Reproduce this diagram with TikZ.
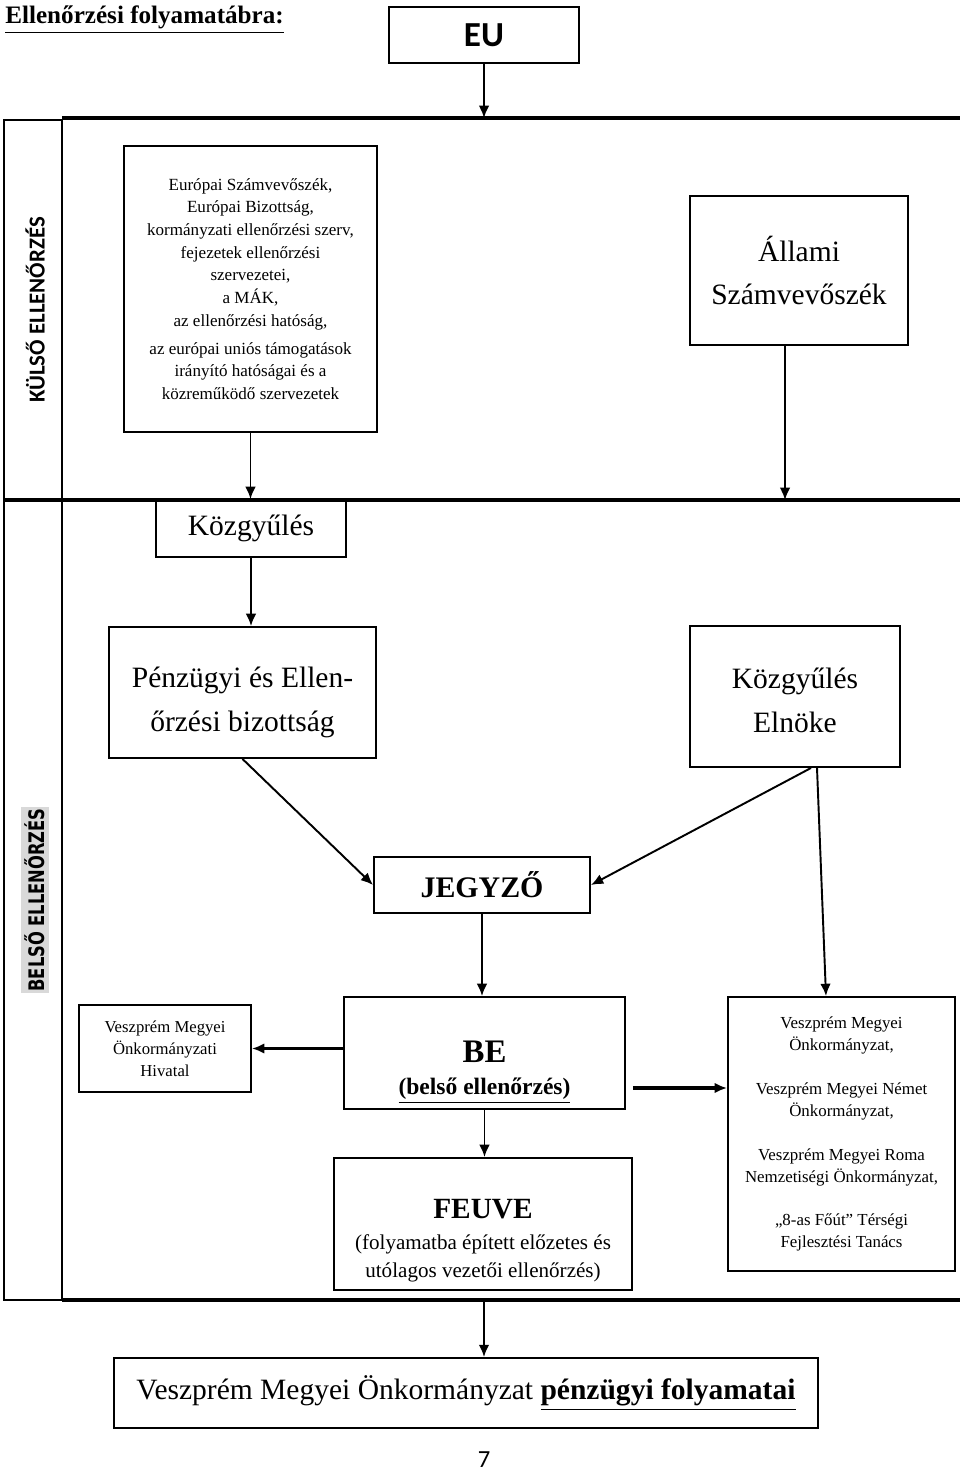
\documentclass[tikz,border=0pt]{standalone}
\usepackage{fontspec}
\setmainfont{Liberation Serif}
\newfontfamily\calibfont{Carlito}
\newfontfamily\dejafont{DejaVu Sans}
\usepackage{tikz}
\usetikzlibrary{positioning,arrows.meta,calc}

\newcommand{\fs}[2]{\fontsize{#1}{#2}\selectfont}
\newcommand{\px}[1]{#1*0.02cm}

\begin{document}
\begin{tikzpicture}[x=0.02cm, y=-0.02cm,
  boxN/.style={draw, line width=1.1pt, inner sep=2pt, align=center},
  smallN/.style={boxN, font=\fs{9.7}{12.9}},
  bigN/.style={boxN, font=\fs{16.8}{25}},
  sideN/.style={rotate=90, inner sep=1pt},
  arr/.style={line width=1.1pt, -{Latex[length=7pt,width=6pt]}},
  thickarr/.style={line width=2pt, -{Latex[length=7pt,width=6pt]}},
  frameline/.style={line width=1.1pt},
  barline/.style={line width=2.6pt}
]
\useasboundingbox (0,0) rectangle (960,1473);
% Title and EU
\node[anchor=base west, inner sep=0, font=\bfseries\fs{14.3}{16}] (title) at (5,24) {\underline{Ellenőrzési folyamatábra:}};
\node[boxN, minimum width=\px{190}, minimum height=\px{56}, font=\calibfont\bfseries\fs{20}{24}] (eu) at (484,35) {EU};
% Frame
\draw[frameline] (4,120) rectangle (62,1300);
\draw[barline] (62,118) -- (960,118);
\draw[barline] (4,500) -- (960,500);
\draw[barline] (62,1300) -- (960,1300);
\coordinate (eutop) at (484,118);
\coordinate (allamiend) at (785,500);
\coordinate (belsoend) at (484,1300);
% Side labels
\node[sideN, font=\calibfont\bfseries\fs{13}{15}] (kulso) at (35,310) {KÜLSŐ ELLENŐRZÉS};
\node[sideN, fill=black!15, inner ysep=2pt] (belso) at (35,900) {\scalebox{0.8}[1.05]{\dejafont\bfseries\fs{11.6}{13}BELSŐ ELLENŐRZÉS}};
% External control
\node[smallN, minimum width=\px{253}, minimum height=\px{286}] (europai) at (250.5,289)
  {Európai Számvevőszék,\\ Európai Bizottság,\\ kormányzati ellenőrzési szerv,\\ fejezetek ellenőrzési\\ szervezetei,\\ a MÁK,\\ az ellenőrzési hatóság,\\[3pt] az európai uniós támogatások\\ irányító hatóságai és a\\ közreműködő szervezetek};
\node[bigN, minimum width=\px{218}, minimum height=\px{149}] (allami) at (799,270.5) {Állami\\ Számvevőszék};
% Internal control
\node[bigN, minimum width=\px{190}, minimum height=\px{57}] (kozgy) at (251,528.5) {Közgyűlés};
\node[bigN, minimum width=\px{267}, minimum height=\px{131}] (penz) at (242.5,692.5) {\rule{0pt}{23pt}Pénzügyi és Ellen-\\ őrzési bizottság};
\node[bigN, minimum width=\px{210}, minimum height=\px{141}] (elnoke) at (795,696.5) {\rule{0pt}{16pt}Közgyűlés\\ Elnöke};
\node[boxN, minimum width=\px{216}, minimum height=\px{56}, font=\bfseries\fs{17}{20}] (jegyzo) at (482,885) {JEGYZŐ};
\node[boxN, minimum width=\px{281}, minimum height=\px{112}, font=\bfseries\fs{13.4}{18}] (be) at (484.5,1053) {\rule{0pt}{34pt}{\fs{18.7}{18}BE}\\ \underline{(belső ellenőrzés)}};
\node[boxN, minimum width=\px{172}, minimum height=\px{87}, font=\fs{9.5}{12.5}] (hivatal) at (165,1048.5) {Veszprém Megyei\\ Önkormányzati\\ Hivatal};
\node[boxN, minimum width=\px{227}, minimum height=\px{274}, font=\fs{9.6}{12.5}] (onk) at (841.5,1134)
  {Veszprém Megyei\\ Önkormányzat,\\[12.5pt] Veszprém Megyei Német\\ Önkormányzat,\\[12.5pt] Veszprém Megyei Roma\\ Nemzetiségi Önkormányzat,\\[12.5pt] „8-as Főút” Térségi\\ Fejlesztési Tanács};
\node[boxN, minimum width=\px{298}, minimum height=\px{132}, font=\fs{12}{15.9}] (feuve) at (483,1224)
  {\rule{0pt}{30pt}{\bfseries\fs{16.7}{16}FEUVE}\\[1.5pt] (folyamatba épített előzetes és\\ utólagos vezetői ellenőrzés)};
% Result
\node[boxN, minimum width=\px{704}, minimum height=\px{70}, font=\fs{16.8}{20}] (folyam) at (466,1393) {Veszprém Megyei Önkormányzat \textbf{\underline{pénzügyi folyamatai}}};
\node[font=\calibfont\fs{14}{16}] (page) at (484,1460) {7};
% Arrows
\draw[arr] (eu) -- (eutop);
\draw[arr] (europai) -- (europai |- kozgy.north);
\draw[arr] (allamiend |- allami.south) -- (allamiend);
\draw[arr] (kozgy) -- (kozgy |- penz.north);
\draw[arr] (penz.south) -- (jegyzo.west);
\draw[arr] ($(elnoke.south)+(16,0)$) -- (jegyzo.east);
\draw[arr] ($(elnoke.south)+(22,0)$) -- ($(onk.north)+(-15.5,0)$);
\draw[arr] (jegyzo) -- (jegyzo |- be.north);
\draw[thickarr] (be.west |- hivatal.east) -- (hivatal.east);
\coordinate (beout) at ($(be.east)+(7,35)$);
\draw[thickarr] (beout) -- (beout -| onk.west);
\draw[arr] (be) -- (be |- feuve.north);
\draw[arr] (belsoend) -- (belsoend |- folyam.north);
\end{tikzpicture}
\end{document}
